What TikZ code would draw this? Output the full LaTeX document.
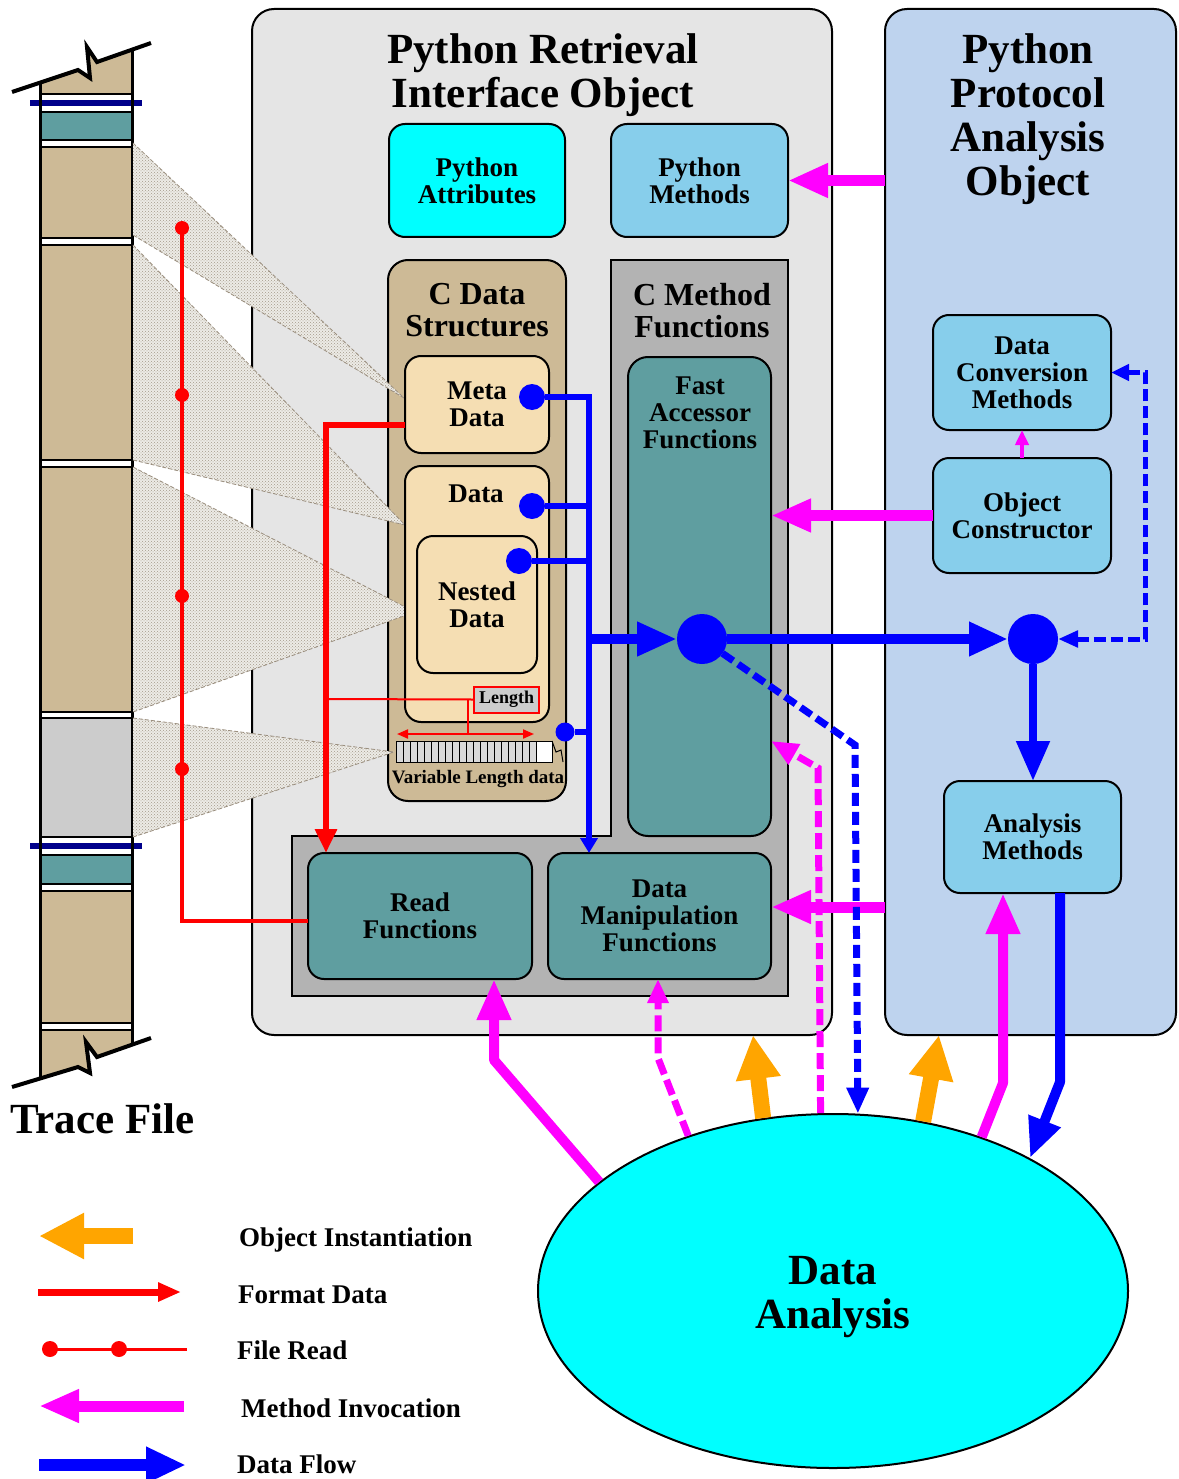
\documentclass[tikz,border=0pt]{standalone}
\usepackage{fontspec}
\setmainfont{Liberation Serif}
\usetikzlibrary{arrows.meta,shapes.geometric,patterns}
\definecolor{panelgray}{HTML}{E5E5E5}
\definecolor{protoblue}{HTML}{BED3EE}
\definecolor{aqua}{HTML}{00FFFF}
\definecolor{skyb}{HTML}{87CEEB}
\definecolor{tanbox}{HTML}{CDBA96}
\definecolor{wheatbox}{HTML}{F5DEB3}
\definecolor{midgray}{HTML}{B3B3B3}
\definecolor{cadet}{HTML}{5F9EA0}
\definecolor{navybar}{HTML}{00008B}
\definecolor{segray}{HTML}{CCCCCC}
\definecolor{beambg}{HTML}{EDEBE6}
\definecolor{beamdot}{HTML}{A39A8A}
\definecolor{beamedge}{HTML}{9A8E7E}
\definecolor{orng}{HTML}{FFA500}
\definecolor{mgnt}{HTML}{FF00FF}
\definecolor{blu}{HTML}{0000FF}
\definecolor{rd}{HTML}{FF0000}
\begin{document}
\begin{tikzpicture}[x=1pt,y=-1pt,
  box/.style={draw=black, line width=2pt, rounded corners=16pt, inner sep=0pt, outer sep=0pt},
  panel/.style={draw=black, line width=2pt, rounded corners=22pt, inner sep=0pt, outer sep=0pt},
  f43/.style={font=\fontsize{43}{44.3}\selectfont\bfseries, align=center, inner sep=0pt},
  f32/.style={font=\fontsize{32}{32}\selectfont\bfseries, align=center, inner sep=0pt},
  f27/.style={font=\fontsize{27}{27}\selectfont\bfseries, align=center, inner sep=0pt},
  f19/.style={font=\fontsize{19}{19}\selectfont\bfseries, align=center, inner sep=0pt},
  rdot/.style={circle, fill=rd, minimum size=14pt, inner sep=0pt},
  bdot/.style={circle, fill=blu, minimum size=#1, inner sep=0pt, outer sep=0pt},
  beamfill/.style={pattern=crosshatch dots, pattern color=beamdot},
  beamline/.style={beamedge, line width=0.8pt, dash pattern=on 4pt off 2pt},
  mdash/.style={mgnt, line width=7pt, dash pattern=on 16pt off 6pt},
  bdash/.style={blu, line width=7pt, dash pattern=on 13pt off 6pt}
]
\useasboundingbox (0,0) rectangle (1178,1479);
\fill[white] (0,0) rectangle (1178,1479);

% ---------- the two object panels ----------
\node[panel, fill=panelgray, minimum width=580pt, minimum height=1026pt] (rpanel) at (542,522) {};
\node[panel, fill=protoblue, minimum width=291pt, minimum height=1026pt] (ppanel) at (1030.5,522) {};

% C method functions area with the lower function tray
\draw[line width=2pt, fill=midgray] (611,260) -- (788,260) -- (788,996) -- (292,996) -- (292,836) -- (611,836) -- cycle;

% C data structures container
\node[box, rounded corners=20pt, fill=tanbox, minimum width=178pt, minimum height=541pt] (cds) at (477,530.5) {};

% ---------- trace file column ----------
\begin{scope}
  \clip (12,92) -- (78,70) -- (90,78) -- (87,47) -- (97,62) -- (151,43) -- (151,1038)
        -- (97,1057) -- (86,1042) -- (90,1073) -- (78,1067) -- (12,1087) -- cycle;
  \fill[white] (40,40) rectangle (132,1090);
  \fill[tanbox] (42,40) rectangle (130.5,1090);
  \fill[cadet] (42,112) rectangle (130.5,140);
  \fill[segray] (42,718) rectangle (130.5,837);
  \fill[cadet] (42,855) rectangle (130.5,884);
  \foreach \a/\b in {94/112, 140/147, 238/245, 460/467, 712/718, 837/855, 884/891, 1023/1030} {
    \fill[white] (40,\a) rectangle (132,\b);
    \draw[line width=1.5pt] (40,\a) -- (132,\a) (40,\b) -- (132,\b);
  }
  \draw[navybar, line width=6pt] (30,103) -- (142,103);
  \draw[navybar, line width=6pt] (30,846) -- (142,846);
  \draw[line width=3pt] (40,40) -- (40,1090) (132,40) -- (132,1090);
\end{scope}
\draw[line width=4pt] (12,92) -- (78,70) -- (90,78) -- (87,47) -- (97,62) -- (151,43);
\draw[line width=4pt] (12,1087) -- (78,1067) -- (90,1073) -- (86,1042) -- (97,1057) -- (151,1038);
\node[f43, anchor=base west] (tracelbl) at (10,1133) {Trace File};

% ---------- record projections ----------
\foreach \ya/\yb/\tx/\ty in {143/235/404/398, 245/460/405/525, 467/712/415/612, 718/837/394/752} {
  \fill[beambg] (133,\ya) -- (\tx,\ty) -- (133,\yb) -- cycle;
  \fill[beamfill] (133,\ya) -- (\tx,\ty) -- (133,\yb) -- cycle;
  \draw[beamline] (133,\ya) -- (\tx,\ty) -- (133,\yb);
}

% ---------- boxes ----------
\node[box, fill=aqua, minimum width=176pt, minimum height=113pt, f27] (pattr) at (477,180.5) {Python\\Attributes};
\node[box, fill=skyb, minimum width=177pt, minimum height=113pt, f27] (pmeth) at (699.5,180.5) {Python\\Methods};
\node[box, fill=wheatbox, minimum width=144pt, minimum height=97pt, f27] (meta) at (477,404.5) {Meta\\Data};
\node[box, fill=wheatbox, minimum width=144pt, minimum height=256pt] (data) at (477,594) {};
\node[box, fill=wheatbox, minimum width=120pt, minimum height=137pt, f27] (nest) at (477,604.5) {Nested\\Data};
\node[box, rounded corners=20pt, fill=cadet, minimum width=143pt, minimum height=479pt] (fa) at (699.5,596.5) {};
\node[box, fill=cadet, minimum width=224pt, minimum height=126pt, f27] (rf) at (420,916) {Read\\Functions};
\node[box, fill=cadet, minimum width=223pt, minimum height=126pt, f27] (dmf) at (659.5,916) {Data\\Manipulation\\Functions};
\node[box, fill=skyb, minimum width=178pt, minimum height=115pt, f27] (dcm) at (1022,372.5) {Data\\Conversion\\Methods};
\node[box, fill=skyb, minimum width=178pt, minimum height=115pt, f27] (oc) at (1022,515.5) {Object\\Constructor};
\node[box, fill=skyb, minimum width=177pt, minimum height=112pt, f27] (am) at (1032.5,837) {Analysis\\Methods};
\node[draw=rd, line width=2pt, fill=segray, minimum width=65pt, minimum height=26pt, inner sep=0pt,
      font=\fontsize{18}{18}\selectfont\bfseries] (len) at (506.5,699.5) {Length};

% variable length data strip
\foreach \i in {0,...,19} {
  \draw[line width=1pt, fill=black!15] (396+\i*7,741) rectangle ++(7,21);
}
\draw[line width=1pt, fill=white] (536,741) rectangle (552,762);
\draw[line width=1pt] (552,741) -- (556,752) -- (561,750) -- (563,762);
\node[f19, anchor=base] (vlen) at (478,783) {Variable Length data};

% ---------- titles ----------
\node[f43, anchor=north] (rtitle) at (543,33) {Python Retrieval\\Interface Object};
\node[f43, anchor=north] (ptitle) at (1028,33) {Python\\Protocol\\Analysis\\Object};
\node[f32, anchor=north] (cdstitle) at (477,283) {C Data\\Structures};
\node[f32, anchor=north] (cmtitle) at (702,283) {C Method\\Functions};
\node[f27, anchor=base] (datatitle) at (476,502) {Data};
\node[f27, anchor=north] (fatitle) at (700,377) {Fast\\Accessor\\Functions};

% ---------- file read and format data ----------
\node[rdot] (rd1) at (182,228) {};
\node[rdot] (rd2) at (182,395) {};
\node[rdot] (rd3) at (182,596) {};
\node[rdot] (rd4) at (182,769) {};
\draw[rd, line width=3.5pt] (rd1.center) -- (rd4.center) -- (182,921) -- (rf.west |- 0,921);
\draw[rd, line width=6pt, -{Triangle[length=24pt,width=21pt]}] (meta.west |- 0,425) -- (326,425) -- (rf.north -| 326,0);
\draw[rd, line width=2pt] (326,699) -- (len.west);
\draw[rd, line width=2pt] (468,699) -- (468,734);
\draw[rd, line width=2pt, {Triangle[length=11pt,width=9pt]}-{Triangle[length=11pt,width=9pt]}] (397,734) -- (534,734);

% ---------- data flow ----------
\node[bdot=26pt] (mdot) at (532,397) {};
\node[bdot=26pt] (ddot) at (532,506) {};
\node[bdot=26pt] (ndot) at (519,561) {};
\node[bdot=19pt] (sdot) at (565,732) {};
\node[bdot=50pt] (bdot1) at (702,639) {};
\node[bdot=50pt] (bdot2) at (1033,639) {};
\coordinate (bus) at (589,397);
\draw[blu, line width=6pt, -{Triangle[length=15pt,width=17pt]}] (mdot.east) -- (bus) -- (dmf.north -| bus);
\draw[blu, line width=6pt] (ddot.east) -- (ddot -| bus);
\draw[blu, line width=6pt] (ndot.east) -- (ndot -| bus);
\draw[blu, line width=6pt] (sdot.east) -- (sdot -| bus);
\draw[blu, line width=10pt, -{Triangle[length=40pt,width=32pt]}] (bdot1 -| bus) -- (bdot1.west);
\draw[blu, line width=10pt, -{Triangle[length=39pt,width=32pt]}] (bdot1.east) -- (bdot2.west);
\draw[blu, line width=8pt, -{Triangle[length=40pt,width=32pt]}] (bdot2.south) -- (am.north -| bdot2);
\draw[blu, line width=5pt, dash pattern=on 12pt off 5pt,
      {Triangle[length=20pt,width=16pt]}-{Triangle[length=18pt,width=16pt]}]
      (bdot2.east) -- (1145,639) -- (1145,372.5) -- (dcm.east);

% ---------- method invocation inside the objects ----------
\draw[mgnt, line width=11pt, -{Triangle[length=40pt,width=32pt]}] (ppanel.west |- pmeth) -- (pmeth.east);
\draw[mgnt, line width=11pt, -{Triangle[length=40pt,width=31pt]}] (oc.west) -- (oc.west -| fa.east);
\draw[mgnt, line width=4pt, -{Triangle[length=15pt,width=13pt]}] (oc.north) -- (dcm.south);
\draw[mgnt, line width=11pt, -{Triangle[length=40pt,width=31pt]}] (ppanel.west |- 0,907) -- (dmf.east |- 0,907);

% ---------- data analysis ----------
\node[ellipse, draw, line width=2pt, fill=aqua, minimum width=590pt, minimum height=354pt, inner sep=0pt] (da) at (833,1291) {};
\node[f43, anchor=north] (datxt) at (833,1256) {Data\\Analysis};

\draw[mgnt, line width=10pt, line join=round, -{Triangle[length=41pt,width=32pt]}] (da.155.5) -- (494,1060) -- (rf.south -| 494,0);
\draw[mdash, -{Triangle[length=24pt,width=20pt]}] (da.133.9) -- (658,1058) -- (dmf.south -| 658,0);
\draw[mdash, -{Triangle[length=27pt,width=22pt]}] (da.94.8) -- (818,768) -- (fa.east |- 0,741);
\draw[mgnt, line width=10pt, line join=round, -{Triangle[length=41pt,width=32pt]}] (da.46.7) -- (1003,1083) -- (am.south -| 1003,0);
\draw[bdash, -{Triangle[length=26pt,width=21pt]}] (bdot1.-35) -- (855,745) -- (da.82.9);
\draw[blu, line width=10pt, line join=round, -{Triangle[length=40pt,width=32pt]}] (am.south -| 1060,0) -- (1060,1082) -- (da.34.4);
\draw[orng, line width=16pt, -{Triangle[length=44pt,width=42pt]}] (da.112.4) -- (rpanel.south -| 753,0);
\draw[orng, line width=16pt, -{Triangle[length=44pt,width=42pt]}] (da.62.2) -- (ppanel.south -| 939,0);

% ---------- legend ----------
\coordinate (lgA1) at (133,1236); \coordinate (lgA2) at (39,1236);
\coordinate (lgB1) at (38,1292);  \coordinate (lgB2) at (181,1292);
\coordinate (lgC2) at (187,1349);
\coordinate (lgD1) at (184,1406); \coordinate (lgD2) at (39,1406);
\coordinate (lgE1) at (39,1465);  \coordinate (lgE2) at (186,1465);
\draw[orng, line width=16pt, -{Triangle[length=45pt,width=43pt]}] (lgA1) -- (lgA2);
\draw[rd, line width=7pt, -{Triangle[length=23pt,width=18pt]}] (lgB1) -- (lgB2);
\node[rdot, minimum size=16pt] (lgC0) at (50,1349) {};
\node[rdot, minimum size=16pt] (lgC1) at (119,1349) {};
\draw[rd, line width=3pt] (lgC0.center) -- (lgC1.center) -- (lgC2);
\draw[mgnt, line width=11pt, -{Triangle[length=40pt,width=31pt]}] (lgD1) -- (lgD2);
\draw[blu, line width=12pt, -{Triangle[length=40pt,width=34pt]}] (lgE1) -- (lgE2);
\node[f27, anchor=base west] (lgt1) at (239,1246) {Object Instantiation};
\node[f27, anchor=base west] (lgt2) at (238,1303) {Format Data};
\node[f27, anchor=base west] (lgt3) at (237,1359) {File Read};
\node[f27, anchor=base west] (lgt4) at (241,1417) {Method Invocation};
\node[f27, anchor=base west] (lgt5) at (237,1473) {Data Flow};
\end{tikzpicture}
\end{document}
